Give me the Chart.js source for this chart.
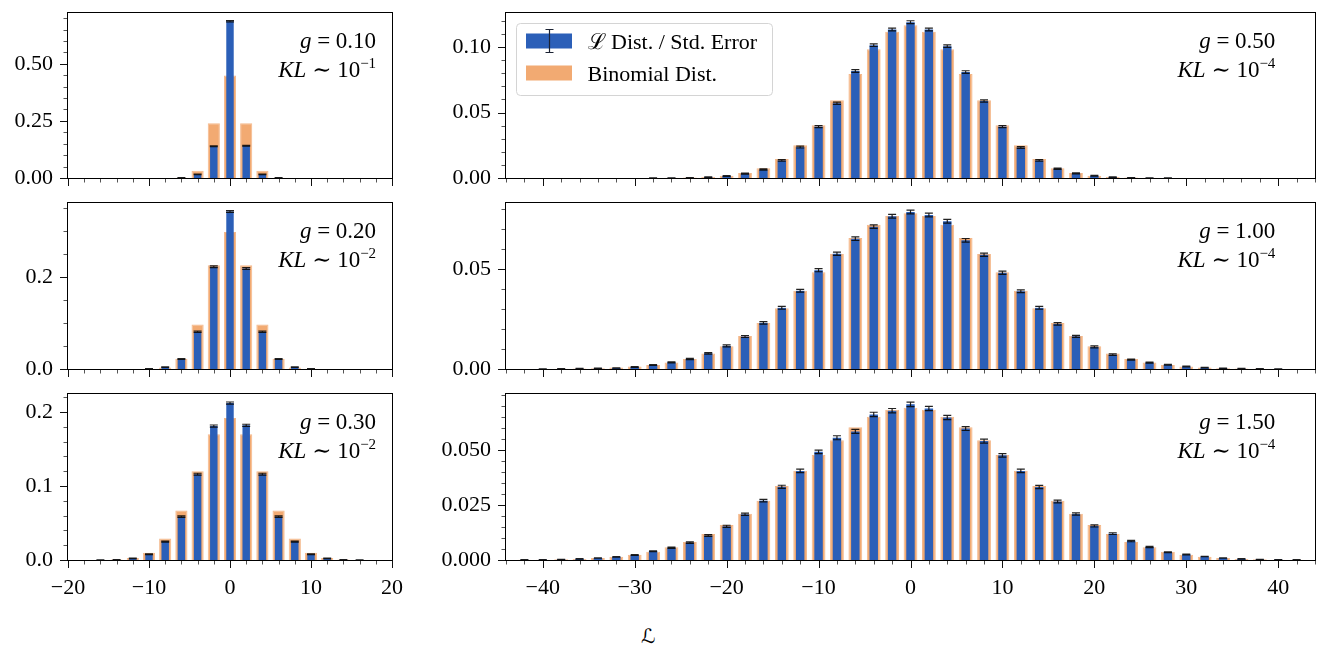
<!DOCTYPE html>
<html>
<head>
<meta charset="utf-8">
<title>L distribution vs binomial</title>
<style>
  body { margin: 0; background: #fff; }
  #fig { position: relative; width: 1319px; height: 647px; overflow: hidden; background: #fff; }
  #fig canvas { position: absolute; }
  #xlabel { position: absolute; left: 641px; top: 624px; font: italic 20px 'DejaVu Serif', 'DejaVu Sans', serif; color: #000; }
</style>
<script src="https://cdn.jsdelivr.net/npm/chart.js@4.4.1/dist/chart.umd.min.js"></script>
</head>
<body>
<div id="fig">
  <div id="xlabel">ℒ</div>
</div>
<script>
'use strict';

// bar positions (even values of L)
let xLeft = [-16, -14, -12, -10, -8, -6, -4, -2, 0, 2, 4, 6, 8, 10, 12, 14, 16];
let xRight = [-42, -40, -38, -36, -34, -32, -30, -28, -26, -24, -22, -20, -18, -16, -14, -12, -10, -8, -6, -4, -2,
  0, 2, 4, 6, 8, 10, 12, 14, 16, 18, 20, 22, 24, 26, 28, 30, 32, 34, 36, 38, 40, 42];

// tick labels
let xTicksLeft = [-20, -10, 0, 10, 20];
let xTicksRight = [-40, -30, -20, -10, 0, 10, 20, 30, 40];
let yTicksG010 = [0, 0.25, 0.5];
let yTicksG020 = [0, 0.2];
let yTicksG030 = [0, 0.1, 0.2];
let yTicksG050 = [0, 0.05, 0.1];
let yTicksG100 = [0, 0.05];
let yTicksG150 = [0, 0.025, 0.05];

let gValues = ['0.10', '0.20', '0.30', '0.50', '1.00', '1.50'];
let klPowers = ['−1', '−2', '−2', '−4', '−4', '−4'];

// g = 0.10
let binomG010 = [0, 0, 0, 0, 0, 0.001, 0.032, 0.240, 0.449, 0.240, 0.032, 0.001, 0, 0, 0, 0, 0];
let distG010 = [0, 0, 0, 0, 0, 0.001, 0.016, 0.139, 0.686, 0.141, 0.016, 0.001, 0, 0, 0, 0, 0];
let errG010 = [0, 0, 0, 0, 0, 0.0005, 0.001, 0.002, 0.003, 0.002, 0.001, 0.0005, 0, 0, 0, 0, 0];

// g = 0.20
let binomG020 = [0, 0, 0, 0.0003, 0.003, 0.0225, 0.0967, 0.226, 0.298, 0.226, 0.0967, 0.0225, 0.003, 0.0003, 0, 0, 0];
let distG020 = [0, 0, 0, 0.0005, 0.004, 0.0218, 0.081, 0.2225, 0.343, 0.219, 0.081, 0.0218, 0.004, 0.0005, 0, 0, 0];
let errG020 = [0, 0, 0, 0.0003, 0.0006, 0.001, 0.0015, 0.002, 0.002, 0.002, 0.0015, 0.001, 0.0006, 0.0003, 0, 0, 0];

// g = 0.30
let binomG030 = [0.0001, 0.0006, 0.0027, 0.0099, 0.029, 0.067, 0.120, 0.170, 0.192, 0.170, 0.120, 0.067, 0.029, 0.0099, 0.0027, 0.0006, 0.0001];
let distG030 = [0.0001, 0.0004, 0.0022, 0.0077, 0.0248, 0.0585, 0.116, 0.181, 0.212, 0.182, 0.116, 0.0585, 0.0248, 0.0077, 0.0022, 0.0004, 0.0001];
let errG030 = [0.0001, 0.0002, 0.0004, 0.0006, 0.0008, 0.001, 0.0012, 0.0014, 0.0015, 0.0014, 0.0012, 0.001, 0.0008, 0.0006, 0.0004, 0.0002, 0.0001];

// g = 0.50
let binomG050 = [0, 0, 0, 0, 0, 0, 0, 0.00005, 0.0001, 0.0003, 0.0007, 0.0018, 0.0038, 0.0074, 0.0145, 0.0251, 0.0403, 0.0594, 0.0794, 0.0984, 0.1116,
  0.1167, 0.1116, 0.0984, 0.0794, 0.0594, 0.0403, 0.0251, 0.0145, 0.0074, 0.0038, 0.0018, 0.0007, 0.0003, 0.0001, 0.00005, 0, 0, 0, 0, 0, 0, 0];
let distG050 = [0, 0, 0, 0, 0, 0, 0, 0.00005, 0.0001, 0.0002, 0.0006, 0.0016, 0.0033, 0.0065, 0.0134, 0.0236, 0.0393, 0.0571, 0.0817, 0.1014, 0.1134,
  0.119, 0.1134, 0.1007, 0.0809, 0.0588, 0.0393, 0.0233, 0.0134, 0.0071, 0.0035, 0.0017, 0.0007, 0.0003, 0.0001, 0.00005, 0, 0, 0, 0, 0, 0, 0];
let errG050 = [0, 0, 0, 0, 0, 0, 0, 0.00005, 0.0001, 0.0001, 0.0002, 0.0003, 0.0004, 0.0005, 0.0006, 0.0007, 0.0008, 0.0009, 0.001, 0.001, 0.0011,
  0.0011, 0.0011, 0.001, 0.001, 0.0009, 0.0008, 0.0007, 0.0006, 0.0005, 0.0004, 0.0003, 0.0002, 0.0001, 0.0001, 0.00005, 0, 0, 0, 0, 0, 0, 0];

// g = 1.00
let binomG100 = [0, 0.00005, 0.0001, 0.0002, 0.0004, 0.0007, 0.0012, 0.002, 0.0032, 0.005, 0.0077, 0.0113, 0.0165, 0.023, 0.0303, 0.039, 0.0483, 0.0573, 0.0653, 0.072, 0.0763,
  0.0777, 0.0763, 0.072, 0.0653, 0.0573, 0.0483, 0.039, 0.0303, 0.023, 0.0165, 0.0113, 0.0077, 0.005, 0.0032, 0.002, 0.0012, 0.0007, 0.0004, 0.0002, 0.0001, 0.00005, 0];
let distG100 = [0, 0.00005, 0.0001, 0.0002, 0.0003, 0.0005, 0.001, 0.002, 0.0033, 0.005, 0.0078, 0.0115, 0.0162, 0.023, 0.0305, 0.039, 0.0493, 0.0575, 0.065, 0.071, 0.0762,
  0.0783, 0.0768, 0.0737, 0.0642, 0.057, 0.048, 0.0388, 0.0305, 0.0225, 0.0163, 0.011, 0.0072, 0.0047, 0.0032, 0.0021, 0.0012, 0.0007, 0.0004, 0.0002, 0.0001, 0.00005, 0];
let errG100 = [0, 0.00003, 0.00005, 0.0001, 0.0001, 0.0001, 0.0002, 0.0002, 0.0003, 0.0003, 0.0004, 0.0005, 0.0005, 0.0006, 0.0007, 0.0007, 0.0008, 0.0008, 0.0009, 0.0009, 0.0009,
  0.0009, 0.0009, 0.0009, 0.0009, 0.0008, 0.0008, 0.0007, 0.0007, 0.0006, 0.0005, 0.0005, 0.0004, 0.0003, 0.0003, 0.0002, 0.0002, 0.0001, 0.0001, 0.0001, 0.00005, 0.00003, 0];

// g = 1.50
let binomG150 = [0.0001, 0.00015, 0.0003, 0.0005, 0.0009, 0.0015, 0.0024, 0.0037, 0.0058, 0.0082, 0.0118, 0.0159, 0.021, 0.027, 0.0336, 0.0406, 0.0478, 0.0545, 0.0604, 0.0651, 0.0683,
  0.0692, 0.0683, 0.0651, 0.0604, 0.0545, 0.0478, 0.0406, 0.0336, 0.027, 0.021, 0.0159, 0.0118, 0.0082, 0.0058, 0.0037, 0.0024, 0.0015, 0.0009, 0.0005, 0.0003, 0.00015, 0.0001];
let distG150 = [0.0001, 0.00015, 0.0003, 0.0005, 0.0009, 0.0014, 0.0023, 0.004, 0.0056, 0.0079, 0.0111, 0.0153, 0.0208, 0.027, 0.0333, 0.0405, 0.0492, 0.0556, 0.0585, 0.0662, 0.0679,
  0.0708, 0.0689, 0.0648, 0.0598, 0.0541, 0.0476, 0.0405, 0.0332, 0.0266, 0.0209, 0.0155, 0.012, 0.0086, 0.0059, 0.0035, 0.0025, 0.0016, 0.0009, 0.0005, 0.0003, 0.0002, 0.0001];
let errG150 = [0.00003, 0.00003, 0.00005, 0.0001, 0.0001, 0.0001, 0.0002, 0.0002, 0.0003, 0.0003, 0.0004, 0.0005, 0.0005, 0.0006, 0.0007, 0.0008, 0.0008, 0.0009, 0.0009, 0.001, 0.001,
  0.001, 0.001, 0.001, 0.0009, 0.0009, 0.0008, 0.0008, 0.0007, 0.0006, 0.0005, 0.0005, 0.0004, 0.0003, 0.0003, 0.0002, 0.0002, 0.0001, 0.0001, 0.0001, 0.00005, 0.00003, 0.00003];


const BLUE = '#2b5fb8';
const ORANGE = '#f2aa72';
const SERIF = "'Liberation Serif', 'DejaVu Serif', serif";

let cols = [
  {x: 0, w: 410, yw: 68, pr: 18, xMin: -20, xMax: 20, xTicks: xTicksLeft},
  {x: 420, w: 899, yw: 86, pr: 4, xMin: -44, xMax: 44, xTicks: xTicksRight}
];
let rows = [{top: 13, bottom: 178}, {top: 203, bottom: 369}, {top: 394, bottom: 560}];

let panels = [
  {col: 0, row: 0, xs: xLeft, binom: binomG010, dist: distG010, err: errG010, yMax: 0.7225, yTicks: yTicksG010, yMinor: 0.05, digits: 2},
  {col: 0, row: 1, xs: xLeft, binom: binomG020, dist: distG020, err: errG020, yMax: 0.3614, yTicks: yTicksG020, yMinor: 0.05, digits: 1},
  {col: 0, row: 2, xs: xLeft, binom: binomG030, dist: distG030, err: errG030, yMax: 0.2243, yTicks: yTicksG030, yMinor: 0.02, digits: 1},
  {col: 1, row: 0, xs: xRight, binom: binomG050, dist: distG050, err: errG050, yMax: 0.126, yTicks: yTicksG050, yMinor: 0.01, digits: 2, legend: true},
  {col: 1, row: 1, xs: xRight, binom: binomG100, dist: distG100, err: errG100, yMax: 0.0828, yTicks: yTicksG100, yMinor: 0.01, digits: 2},
  {col: 1, row: 2, xs: xRight, binom: binomG150, dist: distG150, err: errG150, yMax: 0.0755, yTicks: yTicksG150, yMinor: 0.005, digits: 3}
];


function minusSign(s) {
  return s.replace('-', '−');
}

function crisp(v) {
  return Math.round(v) + 0.5;
}

// frame + major/minor tick marks, matplotlib style
let axesPlugin = {
  id: 'axesFrame',
  afterDatasetsDraw(chart, args, opts) {
    let ctx = chart.ctx;
    let a = chart.chartArea;
    let xs = chart.scales.x;
    let ys = chart.scales.y;
    ctx.save();
    ctx.lineWidth = 1;

    ctx.strokeStyle = '#555';
    ctx.beginPath();
    for (let v = xs.min; v <= xs.max + 1e-9; v += opts.xMinor) {
      if (opts.xTicks.includes(Math.round(v))) continue;
      let px = crisp(xs.getPixelForValue(v));
      ctx.moveTo(px, a.bottom);
      ctx.lineTo(px, a.bottom + 4.5);
    }
    for (let i = 0; ; i++) {
      let v = i * opts.yMinor;
      if (v > ys.max + 1e-9) break;
      if (opts.yTicks.some(t => Math.abs(t - v) < 1e-9)) continue;
      let py = crisp(ys.getPixelForValue(v));
      ctx.moveTo(a.left, py);
      ctx.lineTo(a.left - 4.5, py);
    }
    ctx.stroke();

    ctx.strokeStyle = '#111';
    ctx.beginPath();
    opts.xTicks.forEach(v => {
      let px = crisp(xs.getPixelForValue(v));
      ctx.moveTo(px, a.bottom);
      ctx.lineTo(px, a.bottom + 8);
    });
    opts.yTicks.forEach(v => {
      let py = crisp(ys.getPixelForValue(v));
      ctx.moveTo(a.left, py);
      ctx.lineTo(a.left - 8, py);
    });
    ctx.stroke();

    ctx.strokeStyle = '#000';
    ctx.strokeRect(crisp(a.left) - 1, crisp(a.top) - 1, Math.round(a.right - a.left) + 1, Math.round(a.bottom - a.top) + 1);
    ctx.restore();
  }
};

function drawCap(ctx, x, y, half) {
  ctx.moveTo(x - half, y);
  ctx.lineTo(x + half, y);
}

// std. error bars on the L distribution bars
let errorPlugin = {
  id: 'errorBars',
  afterDatasetsDraw(chart, args, opts) {
    let meta = chart.getDatasetMeta(1);
    let ys = chart.scales.y;
    let ctx = chart.ctx;
    ctx.save();
    ctx.strokeStyle = 'rgba(10,10,10,0.9)';
    ctx.lineWidth = 1.2;
    ctx.beginPath();
    meta.data.forEach((bar, i) => {
      let v = opts.values[i];
      if (!v) return;
      let e = opts.errors[i];
      let top = ys.getPixelForValue(v + e);
      let bottom = ys.getPixelForValue(v - e);
      ctx.moveTo(bar.x, top);
      ctx.lineTo(bar.x, bottom);
      drawCap(ctx, bar.x, top, 4);
      drawCap(ctx, bar.x, bottom, 4);
    });
    ctx.stroke();
    ctx.restore();
  }
};

function drawRuns(ctx, runs, right, base) {
  let total = 0;
  runs.forEach(r => {
    ctx.font = r.font;
    r.w = ctx.measureText(r.text).width;
    total += r.w;
  });
  let x = right - total;
  runs.forEach(r => {
    ctx.font = r.font;
    ctx.fillText(r.text, x, base - (r.rise || 0));
    x += r.w;
  });
}

// "g = ..." and "KL ~ 10^n" in the upper right corner
let notePlugin = {
  id: 'panelNote',
  afterDraw(chart, args, opts) {
    let ctx = chart.ctx;
    let a = chart.chartArea;
    let right = a.left + 0.951 * (a.right - a.left);
    ctx.save();
    ctx.fillStyle = '#000';
    ctx.textAlign = 'left';
    ctx.textBaseline = 'alphabetic';
    drawRuns(ctx, [
      {text: 'g', font: 'italic 23px ' + SERIF},
      {text: ' = ' + opts.g, font: '23px ' + SERIF}
    ], right, a.top + 34.5);
    drawRuns(ctx, [
      {text: 'KL', font: 'italic 23px ' + SERIF},
      {text: ' ∼ 10', font: '23px ' + SERIF},
      {text: opts.kl, font: '15px ' + SERIF, rise: 9}
    ], right, a.top + 64);
    ctx.restore();
  }
};

function roundRect(ctx, x, y, w, h, r) {
  ctx.beginPath();
  ctx.moveTo(x + r, y);
  ctx.arcTo(x + w, y, x + w, y + h, r);
  ctx.arcTo(x + w, y + h, x, y + h, r);
  ctx.arcTo(x, y + h, x, y, r);
  ctx.arcTo(x, y, x + w, y, r);
  ctx.closePath();
}

// legend box inside the top right panel
let legendPlugin = {
  id: 'boxLegend',
  afterDraw(chart, args, opts) {
    if (!opts.show) return;
    let ctx = chart.ctx;
    let a = chart.chartArea;
    let x0 = a.left + 10.5;
    let y0 = a.top + 10.5;
    ctx.save();
    roundRect(ctx, x0, y0, 256, 72, 4);
    ctx.fillStyle = 'rgba(255,255,255,0.85)';
    ctx.fill();
    ctx.strokeStyle = '#d4d4d4';
    ctx.lineWidth = 1;
    ctx.stroke();

    let px = x0 + 9.5;
    ctx.fillStyle = BLUE;
    ctx.fillRect(px, y0 + 10, 46, 15);
    ctx.fillStyle = ORANGE;
    ctx.fillRect(px, y0 + 42, 46, 15);

    let cx = Math.round(px + 23) + 0.5;
    ctx.strokeStyle = '#1b2233';
    ctx.lineWidth = 1.2;
    ctx.beginPath();
    ctx.moveTo(cx, y0 + 6);
    ctx.lineTo(cx, y0 + 29);
    drawCap(ctx, cx, y0 + 6, 4);
    drawCap(ctx, cx, y0 + 29, 4);
    ctx.stroke();

    ctx.fillStyle = '#000';
    ctx.font = '22px ' + SERIF;
    ctx.textBaseline = 'alphabetic';
    ctx.fillText(chart.data.datasets[1].label, x0 + 71, y0 + 25.5);
    ctx.fillText(chart.data.datasets[0].label, x0 + 71, y0 + 57);
    ctx.restore();
  }
};


function renderPanel(p, idx) {
  let col = cols[p.col];
  let row = rows[p.row];
  let bottomRow = p.row === 2;
  let xh = bottomRow ? 50 : 16;
  let canvas = document.createElement('canvas');
  canvas.width = col.w;
  canvas.height = (row.bottom - row.top) + 12 + xh;
  canvas.style.left = col.x + 'px';
  canvas.style.top = (row.top - 12) + 'px';
  document.getElementById('fig').appendChild(canvas);

  let binomData = p.xs.map((x, i) => ({x: x, y: p.binom[i]}));
  let distData = p.xs.map((x, i) => ({x: x, y: p.dist[i]}));

  new Chart(canvas, {
    type: 'bar',
    data: {
      datasets: [{
        label: 'Binomial Dist.',
        data: binomData,
        backgroundColor: ORANGE,
        borderColor: '#f4b88a',
        borderWidth: 1,
        borderSkipped: 'start',
        grouped: false,
        categoryPercentage: 1,
        barPercentage: 0.75,
        order: 2
      }, {
        label: 'ℒ Dist. / Std. Error',
        data: distData,
        backgroundColor: BLUE,
        borderWidth: 0,
        grouped: false,
        categoryPercentage: 1,
        barPercentage: 0.46,
        order: 1
      }]
    },
    options: {
      responsive: false,
      animation: false,
      devicePixelRatio: 1,
      layout: {padding: {top: 12, right: col.pr, left: 0, bottom: 0}},
      plugins: {
        legend: {display: false},
        tooltip: {enabled: false},
        axesFrame: {xTicks: col.xTicks, xMinor: 2, yTicks: p.yTicks, yMinor: p.yMinor},
        errorBars: {values: p.dist, errors: p.err},
        panelNote: {g: gValues[idx], kl: klPowers[idx]},
        boxLegend: {show: !!p.legend}
      },
      scales: {
        x: {
          type: 'linear',
          min: col.xMin,
          max: col.xMax,
          offset: false,
          grid: {display: false, drawTicks: false},
          border: {display: false},
          afterBuildTicks: s => { s.ticks = col.xTicks.map(v => ({value: v})); },
          afterFit: s => { s.height = xh; s.paddingLeft = 0; s.paddingRight = 0; },
          ticks: {
            display: bottomRow,
            autoSkip: false,
            maxRotation: 0,
            padding: 15,
            color: '#000',
            font: {family: SERIF, size: 22},
            callback: v => minusSign(String(v))
          }
        },
        y: {
          min: 0,
          max: p.yMax,
          grid: {display: false, drawTicks: false},
          border: {display: false},
          afterBuildTicks: s => { s.ticks = p.yTicks.map(v => ({value: v})); },
          afterFit: s => { s.width = col.yw; s.paddingTop = 0; s.paddingBottom = 0; },
          ticks: {
            padding: 15,
            color: '#000',
            font: {family: SERIF, size: 22},
            callback: v => v.toFixed(p.digits)
          }
        }
      }
    },
    plugins: [axesPlugin, errorPlugin, notePlugin, legendPlugin]
  });
}

panels.forEach(renderPanel);
</script>
</body>
</html>
